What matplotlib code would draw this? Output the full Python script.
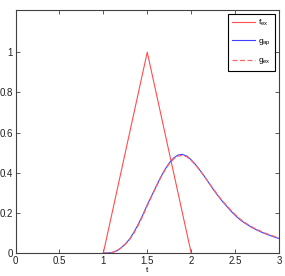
import matplotlib
matplotlib.use('Agg')
import matplotlib.pyplot as plt

# exact input (triangle)
t_f = [1.0, 1.5, 2.0]
f_ex = [0, 1.0, 0]

# response curves
t_g = [1.0, 1.05, 1.1, 1.15, 1.2, 1.25, 1.3, 1.35, 1.4, 1.45, 1.5, 1.55, 1.6, 1.65,
       1.7, 1.75, 1.8, 1.85, 1.9, 1.95, 2.0, 2.05, 2.1, 2.15, 2.2, 2.25, 2.3, 2.35,
       2.4, 2.45, 2.5, 2.55, 2.6, 2.65, 2.7, 2.75, 2.8, 2.85, 2.9, 2.95, 3.0]
g_ap = [0, 0, 0.002, 0.01, 0.025, 0.045, 0.07, 0.105, 0.145, 0.19, 0.24, 0.285,
        0.33, 0.375, 0.415, 0.448, 0.473, 0.488, 0.491, 0.483, 0.464, 0.44, 0.412,
        0.382, 0.35, 0.318, 0.288, 0.26, 0.235, 0.21, 0.188, 0.168, 0.152, 0.138,
        0.125, 0.114, 0.104, 0.095, 0.087, 0.079, 0.072]
g_ex = [0, 0, 0.003, 0.011, 0.025, 0.043, 0.067, 0.1, 0.14, 0.185, 0.235, 0.282,
        0.327, 0.372, 0.411, 0.444, 0.468, 0.482, 0.486, 0.479, 0.461, 0.438, 0.411,
        0.382, 0.351, 0.32, 0.29, 0.263, 0.238, 0.214, 0.192, 0.172, 0.155, 0.141,
        0.128, 0.117, 0.107, 0.098, 0.09, 0.082, 0.075]

plt.rcParams['font.family'] = ['Liberation Sans', 'DejaVu Sans']
plt.rcParams['font.size'] = 7

fig = plt.figure(figsize=(2.85, 2.76), dpi=100)
ax = fig.add_axes([15.5 / 285, 1 - 253 / 276, 263.5 / 285, 243 / 276])

ax.plot(t_f, f_ex, color=(1, 0.3, 0.3), lw=0.8, label=r'$\mathregular{f_{ex}}$')
ax.plot(t_g, g_ap, color=(0.25, 0.25, 1), lw=0.8, label=r'$\mathregular{g_{ap}}$')
ax.plot(t_g, g_ex, color=(1, 0.4, 0.4), lw=0.9, ls=(0, (4, 2)), label=r'$\mathregular{g_{ex}}$')

ax.set_xlim(0, 3)
ax.set_ylim(0, 1.21)
ax.set_xticks([0, 0.5, 1, 1.5, 2, 2.5, 3])
ax.set_xticklabels(['0', '0.5', '1', '1.5', '2', '2.5', '3'])
ax.set_yticks([0, 0.2, 0.4, 0.6, 0.8, 1])
ax.set_yticklabels(['0', '0.2', '0.4', '0.6', '0.8', '1'])
ax.tick_params(direction='in', top=True, right=True, length=3, width=0.6, pad=2,
               labelsize=7, color='#404040', labelcolor='#202020')
for s in ax.spines.values():
    s.set_linewidth(0.8)
    s.set_color('#404040')
    s.set_zorder(3)
ax.set_xlabel('t', fontsize=6, labelpad=1)

leg = ax.legend(loc='upper right', fontsize=6, fancybox=False, framealpha=1,
                edgecolor='black', handlelength=2.7, borderaxespad=0.45,
                labelspacing=1.1, handletextpad=0.4, borderpad=0.5)
leg.get_frame().set_linewidth(0.8)

fig.savefig('out.png', dpi=100)
